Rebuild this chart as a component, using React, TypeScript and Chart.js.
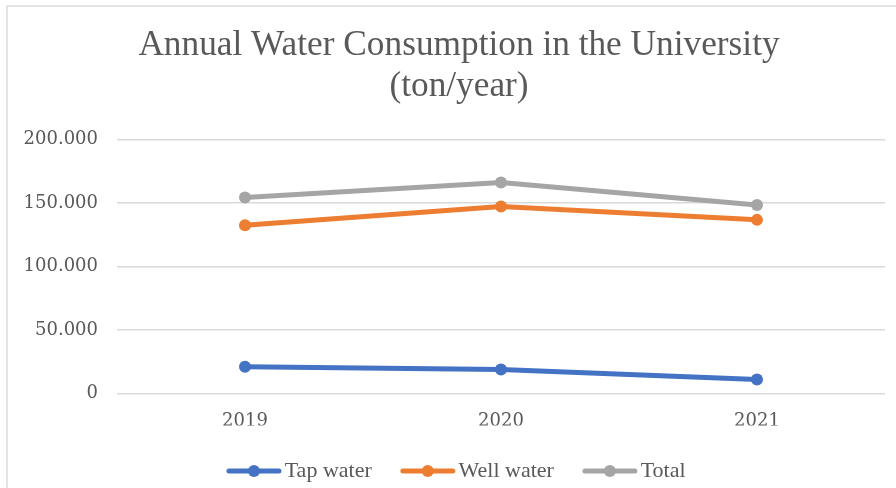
import React, { useEffect, useRef } from "react";
import { Chart, registerables } from "chart.js";

Chart.register(...registerables);

const years = ["2019", "2020", "2021"];
const tapWater = [21000, 18900, 11000];
const wellWater = [132600, 147300, 136800];
const totalWater = [154400, 166200, 148600];
const seriesNames = ["Tap water", "Well water", "Total"];
const seriesColors = ["#4472C4", "#ED7D31", "#A5A5A5"];
const titleLines = ["Annual Water Consumption in the University", "(ton/year)"];
const yMin = 0;
const yMax = 200000;
const yStep = 50000;

const TEXT = "#595959";

const fmt = (v: number | string) =>
  String(v).replace(/\B(?=(\d{3})+(?!\d))/g, ".");

function makeLegendSymbol(color: string): HTMLCanvasElement {
  const c = document.createElement("canvas");
  c.width = 58;
  c.height = 14;
  const g = c.getContext("2d")!;
  g.strokeStyle = color;
  g.lineWidth = 5;
  g.lineCap = "round";
  g.beginPath();
  g.moveTo(4.85, 7);
  g.lineTo(54.85, 7);
  g.stroke();
  g.fillStyle = color;
  g.beginPath();
  g.arc(29.85, 7, 6, 0, Math.PI * 2);
  g.fill();
  return c;
}

export default function App() {
  const ref = useRef<HTMLCanvasElement | null>(null);

  useEffect(() => {
    if (!ref.current) return;
    const symbols = seriesColors.map(makeLegendSymbol);
    const seriesData = [tapWater, wellWater, totalWater];
    const chart = new Chart(ref.current, {
      type: "line",
      data: {
        labels: years,
        datasets: seriesData.map((d, i) => ({
          label: seriesNames[i],
          data: d,
          yAxisID: "y",
          borderColor: seriesColors[i],
          backgroundColor: seriesColors[i],
          borderWidth: 5,
          borderCapStyle: "round",
          borderJoinStyle: "round",
          pointRadius: 6,
          pointHoverRadius: 6,
          pointBorderWidth: 0,
          pointBackgroundColor: seriesColors[i],
          tension: 0,
          fill: false,
        })),
      },
      options: {
        responsive: false,
        animation: false,
        layout: { padding: { left: 20, right: 0, top: 0, bottom: 0 } },
        plugins: {
          title: {
            display: true,
            text: titleLines,
            color: TEXT,
            font: { family: "'Liberation Serif', serif", size: 35.3, weight: "normal", lineHeight: 41 / 35.3 },
            padding: { top: 25, bottom: 32.7 },
          },
          legend: {
            position: "bottom",
            labels: {
              usePointStyle: true,
              pointStyleWidth: 41.3,
              padding: 34.5,
              color: TEXT,
              font: { family: "'Liberation Serif', serif", size: 22 },
              generateLabels: (c: any) => {
                const items = (Chart as any).defaults.plugins.legend.labels.generateLabels(c);
                return items.map((it: any, i: number) => ({ ...it, pointStyle: symbols[i] }));
              },
            },
          },
          tooltip: { enabled: false },
        },
        scales: {
          x: {
            offset: true,
            grid: { display: false, drawTicks: false },
            border: { display: false },
            ticks: {
              color: TEXT,
              font: { family: "'DejaVu Serif', serif", size: 18 },
              padding: 17,
            },
            afterFit: (s: any) => {
              s.height = 32.1;
            },
          },
          y: {
            position: "left",
            min: yMin,
            max: yMax,
            ticks: {
              stepSize: yStep,
              color: TEXT,
              font: { family: "'DejaVu Serif', serif", size: 18 },
              padding: 19,
              callback: (v: any) => fmt(v),
            },
            grid: { color: "#D9D9D9", lineWidth: 1.5, drawTicks: false },
            border: { display: false },
            afterFit: (s: any) => {
              s.width = 97;
            },
          },
          yRightSpace: {
            type: "linear",
            position: "right",
            display: true,
            grid: { display: false, drawTicks: false },
            border: { display: false },
            ticks: { display: false },
            afterFit: (s: any) => {
              s.width = 13;
            },
          },
        },
      } as any,
    });
    return () => chart.destroy();
  }, []);

  return (
    <div
      style={{
        position: "fixed",
        left: 0,
        top: 0,
        width: 896,
        height: 488,
        overflow: "hidden",
        background: "#ffffff",
      }}
    >
      <div
        style={{
          position: "absolute",
          left: 6,
          top: 5,
          width: 1000,
          height: 1000,
          borderTop: "2px solid #E4E4E4",
          borderLeft: "2px solid #E4E4E4",
        }}
      />
      <canvas
        ref={ref}
        width={898}
        height={492}
        style={{ position: "absolute", left: 0, top: 0, width: 898, height: 492 }}
      />
    </div>
  );
}
